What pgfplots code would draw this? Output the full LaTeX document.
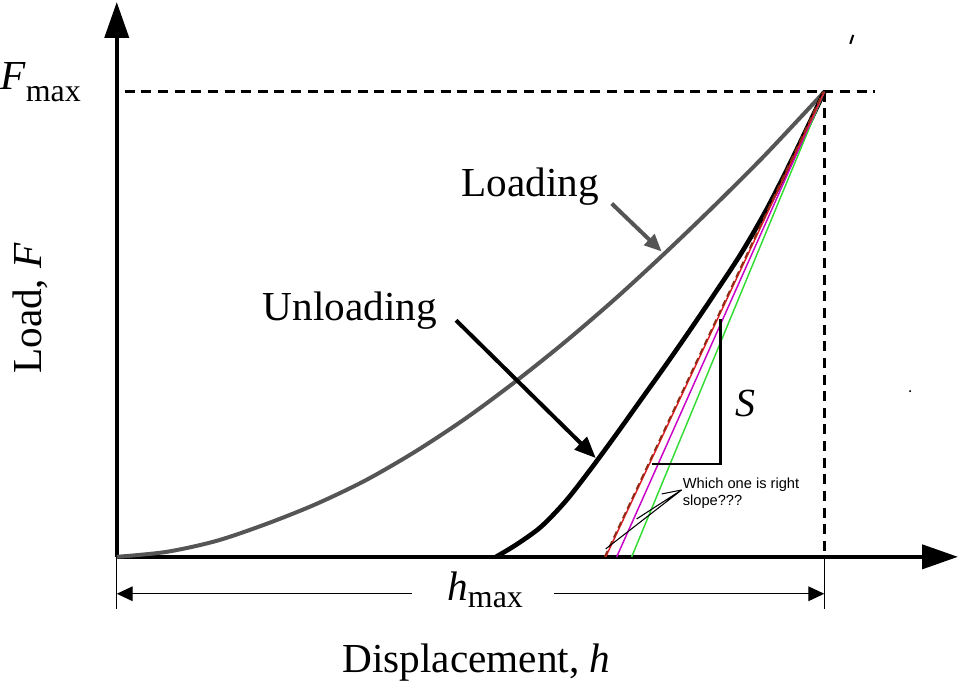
\documentclass[border=0pt]{standalone}
\usepackage{pgfplots}
\pgfplotsset{compat=1.18}
\usepackage{fontspec}
\setmainfont{Liberation Serif}
\newfontfamily\arial{Liberation Sans}
\usetikzlibrary{arrows.meta}

\definecolor{loadgray}{RGB}{85,85,85}
\definecolor{tanred}{RGB}{225,30,40}
\definecolor{tanbrown}{RGB}{140,45,20}
\definecolor{tanmag}{RGB}{200,0,200}
\definecolor{tangreen}{RGB}{50,220,50}

\begin{document}
\begin{tikzpicture}[
    guide/.style={black, line width=2.2pt, dash pattern=on 7.5pt off 5pt},
    lbl/.style={anchor=base west, inner sep=0pt, font=\fontsize{31}{36}\selectfont},
]
\begin{axis}[
    x=0.75pt, y=0.75pt,
    xmin=0, xmax=843, ymin=0, ymax=556,
    axis lines*=left,
    axis line style={line width=3pt, -{Triangle[length=27pt,width=18pt]}},
    xtick=\empty, ytick=\empty,
    clip=false,
]
% fixed page size (960 x 689 px)
\path (axis cs:-117,-133) rectangle (axis cs:843,556);

% guides to Fmax and hmax
\addplot[guide] coordinates {(8,466) (760,466)};
\addplot[guide] coordinates {(709,466) (709,0)};
\addplot[black, line width=1pt] coordinates {(709,0) (709,-52)};
\addplot[black, line width=1pt] coordinates {(0,0) (0,-52)};

% loading curve
\addplot[smooth, loadgray, line width=3pt] coordinates {
    (0,0) (50,5) (100,16) (150,33) (200,53) (250,77) (300,106)
    (350,139) (400,176) (450,216) (500,259) (550,305) (600,353)
    (650,403) (709,466)
};

% unloading curve
\addplot[smooth, black, line width=3.5pt] coordinates {
    (380,0) (400,12) (425,30) (450,56) (475,88) (500,122) (525,157)
    (550,192) (575,228) (600,265) (625,303) (650,346) (675,395) (709,466)
};

% candidate slopes
\addplot[tangreen, line width=1.1pt] coordinates {(516,0) (709,466)};
\addplot[tanmag, line width=1.1pt] coordinates {(501,0) (709,466)};
\addplot[tanred, line width=1.1pt] coordinates {(490,0) (709,466)};
\addplot[tanbrown, line width=1.3pt, dash pattern=on 5pt off 3pt] coordinates {(489,0) (708,466)};

% slope triangle
\addplot[black, line width=2pt] coordinates {(536,93) (605,93) (605,238)};

% pointer lines to the slopes
\addplot[black, line width=0.8pt] coordinates {(490,8) (566,67) (521,38)};
\addplot[black, line width=0.8pt] coordinates {(546,63) (566,67)};

% hmax dimension arrow
\draw[black, line width=1pt, -{Triangle[length=12pt,width=11pt]}] (axis cs:296,-37) -- (axis cs:0,-37);
\draw[black, line width=1pt, -{Triangle[length=12pt,width=11pt]}] (axis cs:438,-37) -- (axis cs:709,-37);

% label arrows
\draw[loadgray, line width=3pt, -{Triangle[length=13pt,width=11pt]}] (axis cs:496,354) -- (axis cs:546,306);
\draw[black, line width=3pt, -{Triangle[length=16pt,width=13pt]}] (axis cs:340,237) -- (axis cs:480,99);

% stray marks of the original
\draw[black, line width=1.5pt] (axis cs:738,523) -- (axis cs:735,514);
\fill[black] (axis cs:795,166) circle (0.8pt);

% texts
\node[lbl] at (axis cs:345,361) {Loading};
\node[lbl] at (axis cs:146,237) {Unloading};
\node[lbl] at (axis cs:226,-116) {Displacement, \textit{h}};
\node[rotate=90, anchor=base, inner sep=0pt, font=\fontsize{31}{36}\selectfont] at (axis cs:-75,249) {Load, \textit{F}};
\node[lbl] at (axis cs:-117,468) {\textit{F}\raisebox{-9pt}{\fontsize{24}{28}\selectfont max}};
\node[lbl] at (axis cs:331,-44) {\textit{h}\raisebox{-5pt}{\fontsize{24}{28}\selectfont max}};
\node[lbl, font=\fontsize{30}{36}\selectfont] at (axis cs:620,141) {\textit{S}};
\node[anchor=base west, inner sep=0pt, font=\arial\fontsize{11}{13}\selectfont] at (axis cs:567,68) {Which one is right};
\node[anchor=base west, inner sep=0pt, font=\arial\fontsize{11}{13}\selectfont] at (axis cs:567,51) {slope???};
\end{axis}
\end{tikzpicture}
\end{document}
